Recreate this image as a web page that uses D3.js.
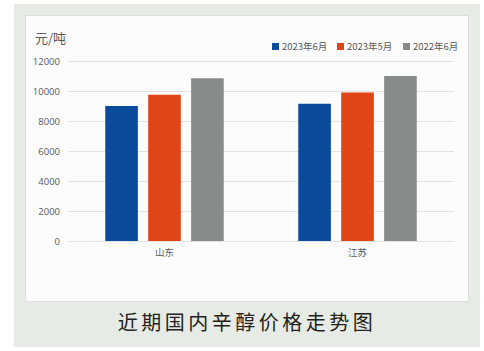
<!DOCTYPE html>
<html>
<head>
<meta charset="utf-8">
<script src="https://cdn.jsdelivr.net/npm/d3@7"></script>
<style>
  html, body { margin: 0; padding: 0; background: #fff; }
  text { font-family: "Noto Sans CJK SC", "Noto Sans", sans-serif; }
</style>
</head>
<body>
<div id="chart"></div>
<script>
// 近期国内辛醇价格 (元/吨)
const regions = ["山东", "江苏"];
const seriesNames = ["2023年6月", "2023年5月", "2022年6月"];
const june2023 = [9000, 9150];
const may2023 = [9750, 9900];
const june2022 = [10850, 11000];
const yTicks = [0, 2000, 4000, 6000, 8000, 10000, 12000];
const colors = ["#0b4b9d", "#e04517", "#888b8c"];

const seriesValues = [june2023, may2023, june2022];
const data = regions.map((r, i) => ({
  region: r,
  values: seriesNames.map((s, j) => ({series: s, value: seriesValues[j][i]}))
}));

const W = 484, H = 351;
const svg = d3.select("#chart").append("svg").attr("width", W).attr("height", H);

// backgrounds
svg.append("rect").attr("x", 14).attr("y", 4).attr("width", 466).attr("height", 343).attr("fill", "#e7ebe5");
svg.append("rect").attr("x", 25.5).attr("y", 15.5).attr("width", 443).attr("height", 286)
  .attr("fill", "#fcfcfc").attr("stroke", "#dcdedb");

const margin = {left: 68, right: 454, top: 61, bottom: 241};
const x0 = d3.scaleBand().domain(regions).range([margin.left, margin.right])
  .paddingInner(0.386).paddingOuter(0.193);
const x1 = d3.scaleBand().domain(seriesNames).range([0, x0.bandwidth()]).paddingInner(0.24);
const y = d3.scaleLinear().domain([0, 12000]).range([margin.bottom, margin.top]);

// grid + y labels
const yAxis = svg.append("g").attr("transform", `translate(${margin.left},0)`)
  .call(d3.axisLeft(y).tickValues(yTicks).tickFormat(d3.format("d"))
    .tickSize(-(margin.right - margin.left)).tickPadding(8));
yAxis.select(".domain").remove();
yAxis.selectAll(".tick line").attr("stroke", "#e3e3e3").attr("stroke-width", 1);
yAxis.selectAll(".tick text").attr("fill", "#595959").attr("font-size", 9.5)
  .style("font-family", "'Open Sans', sans-serif");

// bars
const groups = svg.append("g").selectAll("g").data(data).join("g")
  .attr("transform", d => `translate(${x0(d.region)},0)`);
groups.selectAll("rect").data(d => d.values).join("rect")
  .attr("x", d => x1(d.series))
  .attr("y", d => y(d.value))
  .attr("width", x1.bandwidth())
  .attr("height", d => y(0) - y(d.value))
  .attr("fill", (d, i) => colors[i]);

// x labels
const xAxis = svg.append("g").attr("transform", `translate(0,${margin.bottom})`)
  .call(d3.axisBottom(x0).tickSize(0).tickPadding(8));
xAxis.select(".domain").remove();
xAxis.selectAll(".tick text").attr("fill", "#595959").attr("font-size", 9.5);

// unit
svg.append("text").attr("x", 35).attr("y", 43).attr("font-size", 13).attr("fill", "#595959").text("元/吨");

// legend
const legendX = [272, 337, 403];
const legend = svg.append("g").selectAll("g").data(seriesNames).join("g")
  .attr("transform", (d, i) => `translate(${legendX[i]},46.5)`);
legend.append("rect").attr("x", 0).attr("y", -3.5).attr("width", 7).attr("height", 7)
  .attr("fill", (d, i) => colors[i]);
legend.append("text").attr("x", 10).attr("y", 0).attr("dy", "0.35em")
  .attr("font-size", 9.5).attr("fill", "#595959").text(d => d);

// caption
svg.append("text").attr("x", 247).attr("y", 330).attr("text-anchor", "middle")
  .attr("font-size", 20).attr("letter-spacing", 3.5).attr("fill", "#231f20")
  .text("近期国内辛醇价格走势图");
</script>
</body>
</html>
